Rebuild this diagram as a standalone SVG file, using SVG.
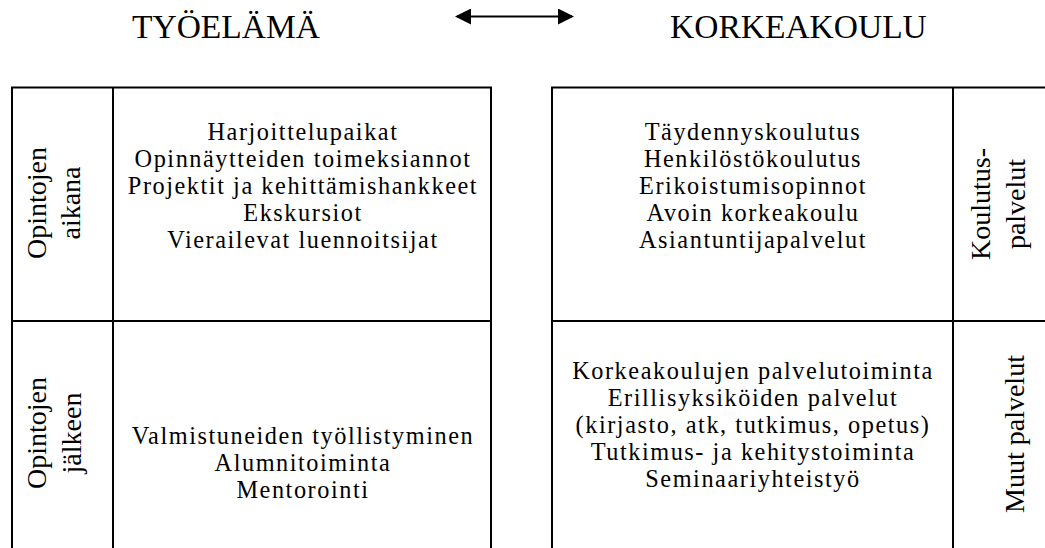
<svg xmlns="http://www.w3.org/2000/svg" width="1045" height="548" viewBox="0 0 1045 548">
<style>
text{font-family:"Liberation Serif","Times New Roman",serif;fill:#000}
.t{font-size:33.5px}
.b{font-size:24.3px;letter-spacing:1.55px;text-anchor:middle}
.r{font-size:28px;text-anchor:middle}
.ln{stroke:#000;stroke-width:2;fill:none}
</style>
<defs>
<marker id="ah" markerWidth="8" markerHeight="8" refX="7" refY="4" orient="auto-start-reverse" markerUnits="strokeWidth"><path d="M0,0 L8,4 L0,8 z" fill="#000"/></marker>
</defs>
<rect width="1045" height="548" fill="#fff"/>
<g id="titles">
<text class="t" x="132" y="38">TYÖELÄMÄ</text>
<text class="t" x="670" y="38">KORKEAKOULU</text>
</g>
<g id="connectors">
<line class="ln" x1="457" y1="16.5" x2="572" y2="16.5" marker-start="url(#ah)" marker-end="url(#ah)"/>
</g>
<g id="left-table">
<path class="ln" d="M12,548 V87.5 H491 V548 M113,87.5 V548 M12,321 H491"/>
</g>
<g id="right-table">
<path class="ln" d="M552,548 V87.5 H1046 M953,87.5 V548 M552,321 H1046"/>
</g>
<g id="cell-opintojen-aikana">
<text class="r" transform="translate(46,203) rotate(-90)">Opintojen</text>
<text class="r" transform="translate(80,203) rotate(-90)">aikana</text>
</g>
<g id="cell-left-top">
<text class="b" x="303" y="140">Harjoittelupaikat</text>
<text class="b" x="303" y="167">Opinnäytteiden toimeksiannot</text>
<text class="b" x="303" y="194">Projektit ja kehittämishankkeet</text>
<text class="b" x="303" y="221">Ekskursiot</text>
<text class="b" x="303" y="248">Vierailevat luennoitsijat</text>
</g>
<g id="cell-opintojen-jalkeen">
<text class="r" transform="translate(46,433) rotate(-90)">Opintojen</text>
<text class="r" transform="translate(81,433) rotate(-90)">jälkeen</text>
</g>
<g id="cell-left-bottom">
<text class="b" x="303" y="444">Valmistuneiden työllistyminen</text>
<text class="b" x="303" y="471">Alumnitoiminta</text>
<text class="b" x="303" y="498">Mentorointi</text>
</g>
<g id="cell-right-top">
<text class="b" x="753" y="140">Täydennyskoulutus</text>
<text class="b" x="753" y="167">Henkilöstökoulutus</text>
<text class="b" x="753" y="194">Erikoistumisopinnot</text>
<text class="b" x="753" y="221">Avoin korkeakoulu</text>
<text class="b" x="753" y="248">Asiantuntijapalvelut</text>
</g>
<g id="cell-koulutuspalvelut">
<text class="r" transform="translate(990,204) rotate(-90)">Koulutus-</text>
<text class="r" transform="translate(1025,204) rotate(-90)">palvelut</text>
</g>
<g id="cell-right-bottom">
<text class="b" x="753" y="379">Korkeakoulujen palvelutoiminta</text>
<text class="b" x="753" y="406">Erillisyksiköiden palvelut</text>
<text class="b" x="753" y="433">(kirjasto, atk, tutkimus, opetus)</text>
<text class="b" x="753" y="460">Tutkimus- ja kehitystoiminta</text>
<text class="b" x="753" y="487">Seminaariyhteistyö</text>
</g>
<g id="cell-muut-palvelut">
<text class="r" transform="translate(1024,434) rotate(-90)">Muut palvelut</text>
</g>
</svg>
